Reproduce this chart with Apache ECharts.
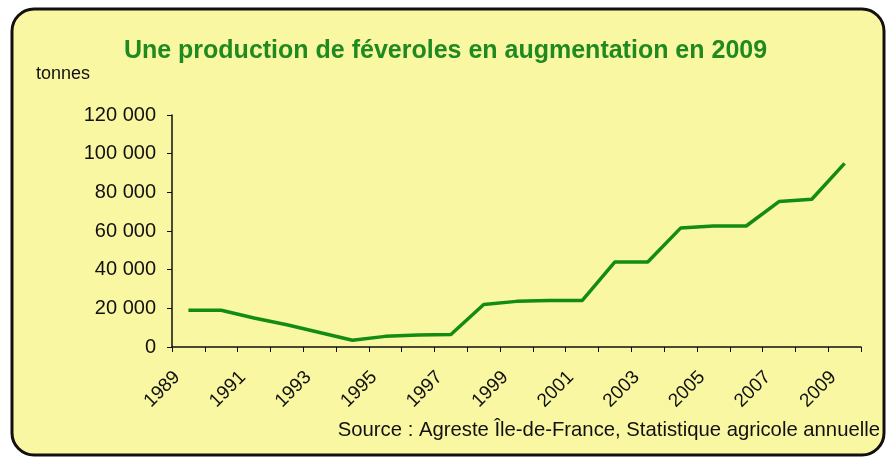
<!DOCTYPE html>
<html>
<head>
<meta charset="utf-8">
<script src="https://cdn.jsdelivr.net/npm/echarts@6/dist/echarts.min.js"></script>
<style>
  html, body { margin: 0; padding: 0; background: #ffffff; }
  #chart { width: 891px; height: 461px; }
</style>
</head>
<body>
<div id="chart"></div>
<script>
// years on the x axis
const years = ['1989', '1990', '1991', '1992', '1993', '1994', '1995', '1996', '1997', '1998', '1999',
  '2000', '2001', '2002', '2003', '2004', '2005', '2006', '2007', '2008', '2009']
// production de féveroles (tonnes)
const production = [19000, 19000, 15000, 11500, 7500, 3500, 5500, 6200, 6500, 22000, 23600,
  24000, 24000, 44000, 44000, 61500, 62600, 62600, 75200, 76400, 95000]
const yTicks = [0, 20000, 40000, 60000, 80000, 100000, 120000]

const titleText = 'Une production de féveroles en augmentation en 2009'
const unitText = 'tonnes'
const sourceText = 'Source : Agreste Île-de-France, Statistique agricole annuelle'

const chart = echarts.init(document.getElementById('chart'), null, { renderer: 'canvas' })

const fmt = (v) => String(v).replace(/\B(?=(\d{3})+(?!\d))/g, ' ')

const option = {
  animation: false,
  backgroundColor: '#ffffff',
  graphic: [
    {
      type: 'rect',
      z: -10,
      shape: { x: 12, y: 9, width: 872, height: 446, r: 22 },
      style: { fill: '#faf7a2', stroke: '#111111', lineWidth: 3 },
    },
    {
      type: 'text',
      left: 'center',
      top: 39,
      style: {
        text: titleText,
        fill: '#1f8a1f',
        font: 'bold 25px "Liberation Sans", Arial, sans-serif',
      },
    },
    {
      type: 'text',
      left: 36,
      top: 65,
      style: {
        text: unitText,
        fill: '#111111',
        font: '18px "Liberation Sans", Arial, sans-serif',
      },
    },
    {
      type: 'text',
      right: 11,
      top: 420,
      style: {
        text: sourceText,
        fill: '#111111',
        font: '20.3px "Liberation Sans", Arial, sans-serif',
      },
    },
  ],
  grid: {
    left: 172,
    right: 30,
    top: 115,
    bottom: 114,
    containLabel: false,
  },
  xAxis: {
    type: 'category',
    data: years,
    boundaryGap: true,
    axisLine: { lineStyle: { color: '#111111', width: 1.5 } },
    axisTick: { show: true, interval: 0, length: 5, inside: false, lineStyle: { color: '#111111' } },
    axisLabel: {
      interval: 1,
      rotate: 45,
      color: '#111111',
      fontSize: 19,
      fontFamily: '"Liberation Sans", Arial, sans-serif',
      margin: 16,
      padding: [0, 16, 0, 0],
    },
    splitLine: { show: false },
  },
  yAxis: {
    type: 'value',
    min: yTicks[0],
    max: yTicks[yTicks.length - 1],
    interval: 20000,
    axisLine: { show: true, lineStyle: { color: '#111111', width: 1.5 } },
    axisTick: { show: true, length: 5, lineStyle: { color: '#111111' } },
    axisLabel: {
      color: '#111111',
      fontSize: 20,
      fontFamily: '"Liberation Sans", Arial, sans-serif',
      margin: 16,
      formatter: fmt,
    },
    splitLine: { show: false },
  },
  series: [
    {
      type: 'line',
      data: production,
      showSymbol: false,
      lineStyle: { color: '#138c13', width: 3.5 },
    },
  ],
}

chart.setOption(option)
</script>
</body>
</html>
